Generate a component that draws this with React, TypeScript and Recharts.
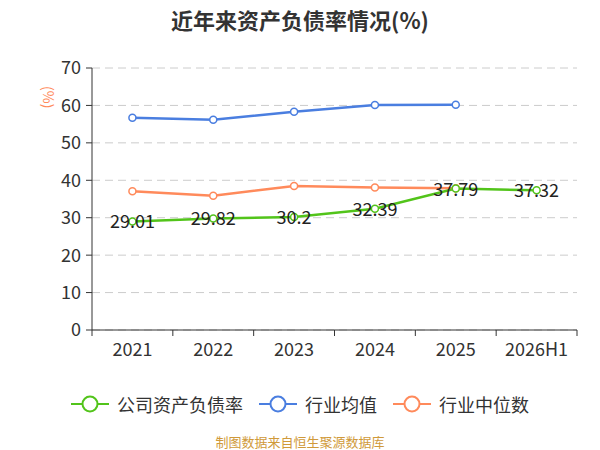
import React from "react";
import { CartesianGrid, Label, LabelList, Line, LineChart, XAxis, YAxis } from "recharts";

const years = ["2021", "2022", "2023", "2024", "2025", "2026H1"];
const companyRatio = [29.01, 29.82, 30.2, 32.39, 37.79, 37.32];
const industryMean = [56.7, 56.2, 58.3, 60.1, 60.2, null];
const industryMedian = [37.05, 35.9, 38.5, 38.1, 37.85, null];
const yTicks = [0, 10, 20, 30, 40, 50, 60, 70];

const series = [
  { key: "company", name: "公司资产负债率", color: "#52c41a" },
  { key: "mean", name: "行业均值", color: "#4a7ee0" },
  { key: "median", name: "行业中位数", color: "#ff8a5b" }
];

const data = years.map((year, i) => ({
  year,
  company: companyRatio[i],
  mean: industryMean[i],
  median: industryMedian[i]
}));

const FONT = "'Noto Sans CJK SC', 'Noto Sans', sans-serif";
const W = 600;
const H = 450;
const M = { top: 68, right: 23, bottom: 90, left: 0 };
const Y_W = 92;
const BAND = (W - M.left - M.right - Y_W) / years.length;

function XTick(props: any) {
  const { x, y, payload, index } = props;
  return (
    <g>
      <line x1={x - BAND / 2} x2={x - BAND / 2} y1={y} y2={y + 6} stroke="#333" />
      {index === years.length - 1 && (
        <line x1={x + BAND / 2} x2={x + BAND / 2} y1={y} y2={y + 6} stroke="#333" />
      )}
      <text x={x} y={y + 26} textAnchor="middle" fill="#333" fontSize={18} fontFamily={FONT}>
        {payload.value}
      </text>
    </g>
  );
}

function ValueLabel(props: any) {
  const { x, y, value } = props;
  if (value == null) return null;
  return (
    <text x={x} y={y - 1} textAnchor="middle" dominantBaseline="central" fill="#222" fontSize={18} fontFamily={FONT}>
      {value}
    </text>
  );
}

function ChartLegend() {
  return (
    <div
      style={{
        position: "absolute",
        top: 391,
        left: 0,
        width: W,
        display: "flex",
        justifyContent: "center",
        alignItems: "center",
        fontSize: 18,
        color: "#333"
      }}
    >
      {series.map((s) => (
        <div key={s.key} style={{ display: "flex", alignItems: "center", margin: "0 8px" }}>
          <svg width={38} height={20} style={{ marginRight: 8 }}>
            <line x1={0} x2={38} y1={10} y2={10} stroke={s.color} strokeWidth={2} />
            <circle cx={19} cy={10} r={7.5} fill="#fff" stroke={s.color} strokeWidth={2} />
          </svg>
          <span>{s.name}</span>
        </div>
      ))}
    </div>
  );
}

export default function App() {
  return (
    <div style={{ position: "absolute", left: 0, top: 0, width: W, height: H, background: "#fff", fontFamily: FONT }}>
      <div style={{ position: "absolute", top: 3, width: W, textAlign: "center", fontSize: 22, fontWeight: "bold", color: "#333" }}>
        近年来资产负债率情况(%)
      </div>
      <LineChart width={W} height={H} data={data} margin={M}>
        <CartesianGrid vertical={false} stroke="#ccc" strokeDasharray="8 5" />
        <XAxis
          dataKey="year"
          stroke="#333"
          tickLine={false}
          tickSize={0}
          tickMargin={0}
          height={30}
          interval={0}
          padding={{ left: BAND / 2, right: BAND / 2 }}
          tick={<XTick />}
        />
        <YAxis
          width={Y_W}
          domain={[0, 70]}
          ticks={yTicks}
          stroke="#333"
          tick={{ fill: "#333", fontSize: 18, fontFamily: FONT }}
          tickSize={6}
          tickMargin={5}
        >
          <Label
            value="(%)"
            angle={90}
            position="insideTopLeft"
            offset={0}
            dx={53}
            dy={18}
            fill="#ff8a5b"
            fontSize={14}
            fontFamily={FONT}
          />
        </YAxis>
        <Line
          dataKey="mean"
          name="行业均值"
          stroke="#4a7ee0"
          strokeWidth={2.5}
          dot={{ r: 3.5, fill: "#fff", stroke: "#4a7ee0", strokeWidth: 1.5 }}
          isAnimationActive={false}
        />
        <Line
          dataKey="median"
          name="行业中位数"
          stroke="#ff8a5b"
          strokeWidth={2.5}
          dot={{ r: 3.5, fill: "#fff", stroke: "#ff8a5b", strokeWidth: 1.5 }}
          isAnimationActive={false}
        />
        <Line
          dataKey="company"
          name="公司资产负债率"
          stroke="#52c41a"
          strokeWidth={2.5}
          dot={{ r: 3.5, fill: "#fff", stroke: "#52c41a", strokeWidth: 1.5 }}
          isAnimationActive={false}
        >
          <LabelList dataKey="company" content={<ValueLabel />} />
        </Line>
      </LineChart>
      <ChartLegend />
      <div style={{ position: "absolute", top: 432, width: W, textAlign: "center", fontSize: 13, color: "#d09a3a" }}>
        制图数据来自恒生聚源数据库
      </div>
    </div>
  );
}
